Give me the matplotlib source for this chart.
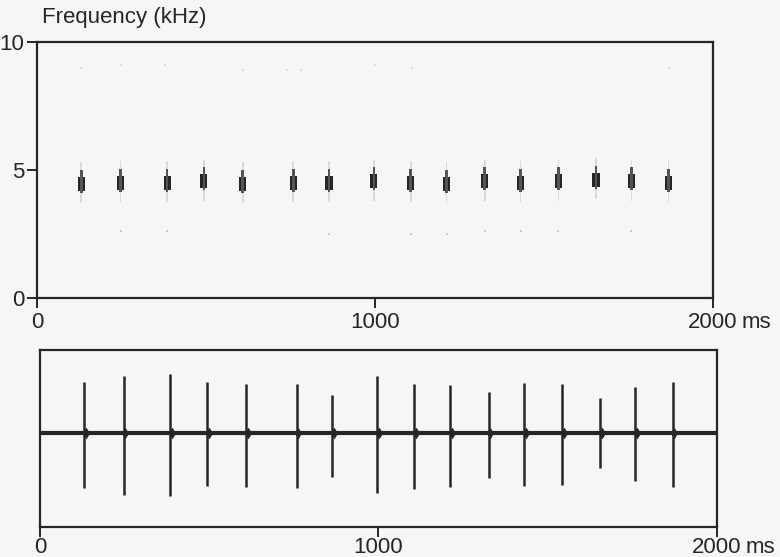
import matplotlib
matplotlib.use("Agg")
import matplotlib.pyplot as plt

# ---- data ----
pulse_times = [131, 247, 385, 494, 609, 758, 864, 997, 1106, 1212, 1325, 1431, 1543, 1654, 1759, 1869]
pulse_freq = [4.45, 4.5, 4.5, 4.55, 4.45, 4.5, 4.5, 4.55, 4.5, 4.45, 4.55, 4.5, 4.55, 4.6, 4.55, 4.5]
amp_up = [51, 57, 59, 51, 49, 49, 38, 57, 49, 48, 41, 50, 49, 35, 46, 51]
amp_down = [55, 62, 63, 53, 54, 55, 44, 60, 56, 54, 45, 53, 52, 35, 48, 54]
harm_times = [130, 250, 380, 610, 740, 780, 1000, 1110, 1870]
harm_freq = [9.0, 9.1, 9.1, 8.9, 8.9, 8.9, 9.1, 9.0, 9.0]
low_times = [250, 385, 864, 1106, 1212, 1325, 1431, 1543, 1759]
low_freq = [2.6, 2.6, 2.5, 2.5, 2.5, 2.6, 2.6, 2.6, 2.6]
xticks = [0, 1000, 2000]
xticklabels = ["0", "1000", "2000"]
yticks = [0, 5, 10]

ink = "#262626"
bg = "#f6f6f4"
plt.rcParams["font.family"] = ["Liberation Sans", "DejaVu Sans"]
fs = 16

fig = plt.figure(figsize=(7.8, 5.57), dpi=100, facecolor=bg)

# ---- spectrogram ----
ax1 = fig.add_axes([0.0474, 0.465, 0.8666, 0.4596])
ax1.set_facecolor(bg)
ax1.set_xlim(0, 2000)
ax1.set_ylim(0, 10)
# faint streaks
ax1.bar(pulse_times, [1.6] * len(pulse_times), bottom=[f - 0.75 for f in pulse_freq],
        width=5, color="#dadada", linewidth=0)
# dark blobs
ax1.bar(pulse_times, [0.55] * len(pulse_times), bottom=[f - 0.27 for f in pulse_freq],
        width=21, color=ink, linewidth=0)
ax1.bar(pulse_times, [0.9] * len(pulse_times), bottom=[f - 0.35 for f in pulse_freq],
        width=8, color="#555555", linewidth=0)
ax1.scatter(harm_times, harm_freq, s=4, color="#dcdcdc", marker="s", linewidths=0)
ax1.scatter(low_times, low_freq, s=3, color="#cacaca", marker="s", linewidths=0)

ax1.set_xticks(xticks)
ax1.set_xticklabels([])
ax1.set_yticks(yticks)
ax1.set_yticklabels([str(v) for v in yticks])
for lab in ax1.get_yticklabels():
    lab.set_fontsize(fs)
ax1.tick_params(axis="both", direction="out", length=7, width=1.4, color=ink, labelcolor=ink, pad=2)
for sp in ax1.spines.values():
    sp.set_linewidth(1.6)
    sp.set_color(ink)
for t, lab in zip(xticks, xticklabels):
    ax1.text(t, -0.55, lab, ha="center", va="top", fontsize=fs, color=ink)
ax1.text(2085, -0.55, "ms", ha="left", va="top", fontsize=fs, color=ink)
fig.text(0.054, 0.968, "Frequency (kHz)", ha="left", va="center", fontsize=fs, color=ink)

# ---- oscillogram ----
ax2 = fig.add_axes([0.0513, 0.0539, 0.8679, 0.3177])
ax2.set_facecolor(bg)
ax2.set_xlim(0, 2000)
ax2.set_ylim(-94, 83)
ax2.axhline(0, color=ink, linewidth=3.0)
ax2.vlines(pulse_times, [-d for d in amp_down], amp_up, color=ink, linewidth=1.8)
ax2.scatter([t + 5 for t in pulse_times], [0] * len(pulse_times), s=36, marker="d", color=ink, linewidths=0)
ax2.set_yticks([])
ax2.set_xticks(xticks)
ax2.set_xticklabels([])
ax2.tick_params(axis="x", direction="out", length=7, width=1.4, color=ink)
for sp in ax2.spines.values():
    sp.set_linewidth(1.6)
    sp.set_color(ink)
for t, lab in zip(xticks, xticklabels):
    ax2.text(t, -104, lab, ha="center", va="top", fontsize=fs, color=ink)
ax2.text(2085, -104, "ms", ha="left", va="top", fontsize=fs, color=ink)

fig.savefig("out.png", dpi=100, facecolor=bg)
